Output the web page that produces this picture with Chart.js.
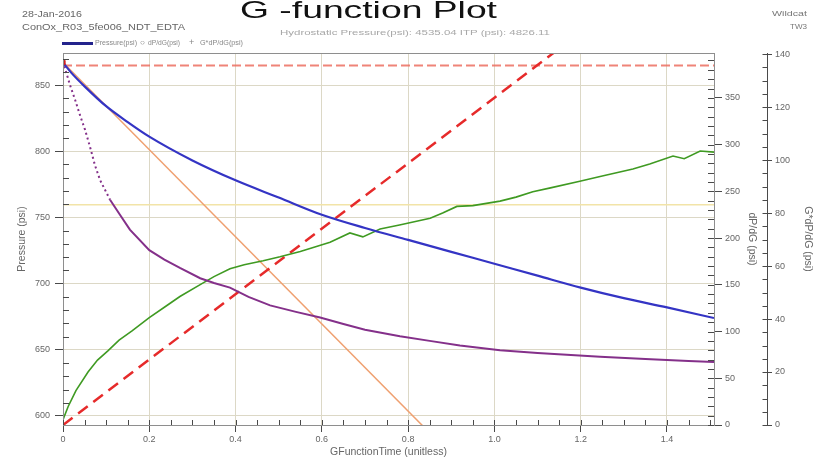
<!DOCTYPE html>
<html>
<head>
<meta charset="utf-8">
<title>G -function Plot</title>
<script src="https://cdn.jsdelivr.net/npm/chart.js@4.4.1/dist/chart.umd.min.js"></script>
<style>
  html, body { margin: 0; padding: 0; background: #fff; }
  #wrap { position: relative; width: 821px; height: 459px; overflow: hidden;
          font-family: "Liberation Sans", Arial, sans-serif; }
  #c { position: absolute; left: 0; top: 0; }
  .t { position: absolute; white-space: nowrap; transform-origin: 0 50%; }
</style>
</head>
<body>
<div id="wrap">
  <canvas id="c" width="821" height="459"></canvas>

  <div class="t" data-w="257" style="left:240px;top:-2px;font-size:24px;line-height:24px;color:#111;">G -function Plot</div>
  <div class="t" data-w="60" style="left:22px;top:10px;font-size:9px;line-height:9px;color:#666;">28-Jan-2016</div>
  <div class="t" data-w="163" style="left:22px;top:23px;font-size:9px;line-height:9px;color:#666;">ConOx_R03_5fe006_NDT_EDTA</div>
  <div class="t" data-w="270" style="left:280px;top:29px;font-size:7.5px;line-height:7.5px;color:#a8a8a8;">Hydrostatic Pressure(psi): 4535.04 ITP (psi): 4826.11</div>
  <div class="t" data-w="35" style="left:772px;top:10px;font-size:8px;line-height:8px;color:#777;">Wildcat</div>
  <div class="t" data-w="17" style="left:790px;top:23px;font-size:8px;line-height:8px;color:#777;">TW3</div>

  <div style="position:absolute;left:62px;top:42px;width:31px;height:3px;background:#23238c;"></div>
  <div class="t" data-w="42" style="left:95px;top:39px;font-size:8px;line-height:8px;color:#888;">Pressure(psi)</div>
  <div class="t" style="left:140px;top:39px;font-size:8px;line-height:8px;color:#777;">○</div>
  <div class="t" data-w="32" style="left:148px;top:39px;font-size:8px;line-height:8px;color:#888;">dP/dG(psi)</div>
  <div class="t" style="left:189px;top:38px;font-size:9px;line-height:9px;color:#888;">+</div>
  <div class="t" data-w="43" style="left:200px;top:39px;font-size:8px;line-height:8px;color:#888;">G*dP/dG(psi)</div>
</div>

<script>
// ---- Pressure vs G-function time (left axis, psi)
const pressureG   = [0, 0.02, 0.05, 0.1, 0.15, 0.2, 0.3, 0.4, 0.5, 0.6, 0.7, 0.8, 0.9, 1.0, 1.1, 1.2, 1.3, 1.4, 1.509];
const pressurePsi = [867, 859, 849, 834, 822, 811, 793, 778, 765, 752, 742, 733, 724, 715, 706, 697, 689, 682, 674];

// ---- dP/dG (middle right axis, psi)
const dpdgG   = [0, 0.016, 0.028, 0.039, 0.051, 0.063, 0.074, 0.086, 0.109, 0.132, 0.155, 0.2, 0.235, 0.271, 0.318, 0.35, 0.387, 0.43, 0.48, 0.54, 0.596, 0.65, 0.7, 0.781, 0.85, 0.92, 1.013, 1.1, 1.245, 1.35, 1.45, 1.509];
const dpdgPsi = [389, 364, 348, 332, 316, 297, 278, 262, 241, 225, 209, 187, 177, 168, 157, 152, 147, 137, 128, 121, 115, 108, 102, 95, 90, 85, 80, 77, 73, 70.5, 68.5, 67.5];

// ---- G*dP/dG (far right axis, psi)
const gdpdgG   = [0, 0.012, 0.03, 0.058, 0.08, 0.104, 0.13, 0.16, 0.2, 0.24, 0.271, 0.318, 0.35, 0.387, 0.42, 0.464, 0.503, 0.55, 0.58, 0.619, 0.665, 0.695, 0.735, 0.78, 0.851, 0.88, 0.913, 0.95, 1.013, 1.05, 1.089, 1.13, 1.198, 1.25, 1.321, 1.36, 1.414, 1.44, 1.477, 1.509];
const gdpdgPsi = [2, 7, 13, 20, 24.5, 28, 32, 35.5, 40.5, 45, 48.5, 53, 56, 59, 60.5, 62, 63.5, 65.5, 67, 69, 72.5, 71, 74, 75.5, 78, 80, 82.5, 82.8, 84.5, 86, 88, 89.5, 92, 94, 96.6, 98.5, 101.5, 100.5, 103.4, 103];

// ---- Straight-line fits and reference levels
const tangentG   = [0, 0.834];
const tangentPsi = [867, 592.5];
const originLineG   = [0, 1.2];
const originLinePsi = [0, 148.2];
const isipPsi  = 864.7;
const bandPsi  = 759.5;
const gMax = 1.509;

// ---- Tick labels
const gTicks        = [0, 0.2, 0.4, 0.6, 0.8, 1.0, 1.2, 1.4];
const pressureTicks = [600, 650, 700, 750, 800, 850];
const dpdgTicks     = [0, 50, 100, 150, 200, 250, 300, 350];
const gdpdgTicks    = [0, 20, 40, 60, 80, 100, 120, 140];

const pts = (xs, ys) => xs.map((x, i) => ({ x, y: ys[i] }));

// fit header texts to their widths
document.querySelectorAll('.t[data-w]').forEach(el => {
  const w = el.getBoundingClientRect().width;
  el.style.transform = 'scaleX(' + (parseFloat(el.dataset.w) / w) + ')';
});

const AXIS = '#4a4a4a';
const GRID = '#dcd8c6';
const TICKFONT = { family: '"Liberation Sans", Arial, sans-serif', size: 9 };
const TITLEFONT = { family: '"Liberation Sans", Arial, sans-serif', size: 10.5 };

const setTicks = list => scale => { scale.ticks = list.map(v => ({ value: v })); };

// inward minor / major tick marks and plot frame
const tickMarks = {
  id: 'tickMarks',
  afterDraw(chart) {
    const { ctx, chartArea: a, scales } = chart;
    ctx.save();
    ctx.strokeStyle = '#8e8e8e';
    ctx.lineWidth = 1;
    ctx.strokeRect(a.left + 0.5, a.top + 0.5, a.right - a.left, a.bottom - a.top);
    ctx.strokeStyle = AXIS;
    const vTicks = (scale, x0, dir, step, majorStep, minorLen, majorLen) => {
      for (let v = Math.ceil(scale.min / step) * step; v <= scale.max + 1e-9; v += step) {
        const y = Math.round(scale.getPixelForValue(v)) + 0.5;
        const isMajor = Math.abs(v / majorStep - Math.round(v / majorStep)) < 1e-6;
        const len = isMajor ? majorLen : minorLen;
        ctx.beginPath(); ctx.moveTo(x0, y); ctx.lineTo(x0 + dir * len, y); ctx.stroke();
      }
    };
    vTicks(scales.y, a.left, 1, 10, 50, 6, 0);
    vTicks(scales.y2, a.right, -1, 10, 50, 6, 6);
    vTicks(scales.y3, Math.round(scales.y3.left) + 0.5, -1, 5, 20, 5, 5);
    const sx = scales.x;
    for (let i = 0; i * 0.05 <= gMax; i++) {
      const x = Math.round(sx.getPixelForValue(i * 0.05)) + 0.5;
      ctx.beginPath(); ctx.moveTo(x, a.bottom); ctx.lineTo(x, a.bottom - 5); ctx.stroke();
    }
    ctx.restore();
  }
};

const lineDs = (label, data, yAxisID, color, width, extra) => Object.assign({
  label, data, yAxisID, borderColor: color, backgroundColor: color,
  borderWidth: width, pointRadius: 0, tension: 0, fill: false
}, extra || {});

new Chart(document.getElementById('c'), {
  type: 'line',
  data: {
    datasets: [
      lineDs('Start', [{ x: 0, y: 867 }], 'y', '#d42020', 1, { pointRadius: 3, pointStyle: 'rect' }),
      lineDs('Pressure(psi)', pts(pressureG, pressurePsi), 'y', '#3434c4', 2.2, { cubicInterpolationMode: 'monotone' }),
      lineDs('dP/dG(psi)', pts(dpdgG, dpdgPsi), 'y2', '#84308a', 2, {
        segment: { borderDash: c => c.p0.parsed.x < 0.1 ? [2, 3] : undefined }
      }),
      lineDs('G*dP/dG(psi)', pts(gdpdgG, gdpdgPsi), 'y3', '#3f9a22', 1.6),
      lineDs('Origin line', pts(originLineG, originLinePsi), 'y3', '#e62a2a', 2.5, { borderDash: [12, 7] }),
      lineDs('Tangent', pts(tangentG, tangentPsi), 'y', '#efa070', 1.5),
      lineDs('ISIP', [{ x: 0, y: isipPsi }, { x: gMax, y: isipPsi }], 'y', 'rgba(236,110,96,0.85)', 2, { borderDash: [9, 4] }),
      lineDs('Band', [{ x: 0, y: bandPsi }, { x: gMax, y: bandPsi }], 'y', '#f2e4a8', 1.5)
    ]
  },
  options: {
    responsive: false,
    animation: false,
    devicePixelRatio: 1,
    layout: { padding: { top: 53, left: 0, right: 0, bottom: 0 } },
    plugins: { legend: { display: false }, tooltip: { enabled: false } },
    scales: {
      x: {
        type: 'linear', min: 0, max: gMax,
        afterBuildTicks: setTicks(gTicks),
        afterFit: s => { s.height = 34; },
        grid: { color: GRID, tickColor: AXIS, tickLength: 7 },
        border: { color: AXIS },
        ticks: { color: '#666', font: TICKFONT, padding: 2, maxRotation: 0,
                 callback: v => v === 0 ? '0' : v.toFixed(1) },
        title: { display: true, text: 'GFunctionTime (unitless)', color: '#666', font: TITLEFONT,
                 padding: { top: 0, bottom: 1 } }
      },
      y: {
        type: 'linear', position: 'left', min: 593.2, max: 874.2,
        afterBuildTicks: setTicks(pressureTicks),
        afterFit: s => { s.width = 63; },
        grid: { color: GRID, tickColor: AXIS, tickLength: 8 },
        border: { color: AXIS },
        ticks: { color: '#666', font: TICKFONT, padding: 5 },
        title: { display: true, text: 'Pressure (psi)', color: '#666', font: TITLEFONT,
                 padding: { top: 15.5, bottom: 0 } }
      },
      y2: {
        type: 'linear', position: 'right', min: 0, max: 398,
        afterBuildTicks: setTicks(dpdgTicks),
        afterFit: s => { s.width = 53; },
        grid: { drawOnChartArea: false, tickColor: AXIS, tickLength: 8 },
        border: { color: AXIS },
        ticks: { color: '#666', font: TICKFONT, padding: 3 },
        title: { display: true, text: 'dP/dG (psi)', color: '#666', font: TITLEFONT,
                 padding: { top: 8.5, bottom: 0 } }
      },
      y3: {
        type: 'linear', position: 'right', min: 0, max: 140.4,
        afterBuildTicks: setTicks(gdpdgTicks),
        afterFit: s => { s.width = 54; },
        grid: { drawOnChartArea: false, tickColor: AXIS, tickLength: 5 },
        border: { color: AXIS },
        ticks: { color: '#666', font: TICKFONT, padding: 3 },
        title: { display: true, text: 'G*dP/dG (psi)', color: '#666', font: TITLEFONT,
                 padding: { top: 6.5, bottom: 0 } }
      }
    }
  },
  plugins: [tickMarks]
});
</script>
</body>
</html>
